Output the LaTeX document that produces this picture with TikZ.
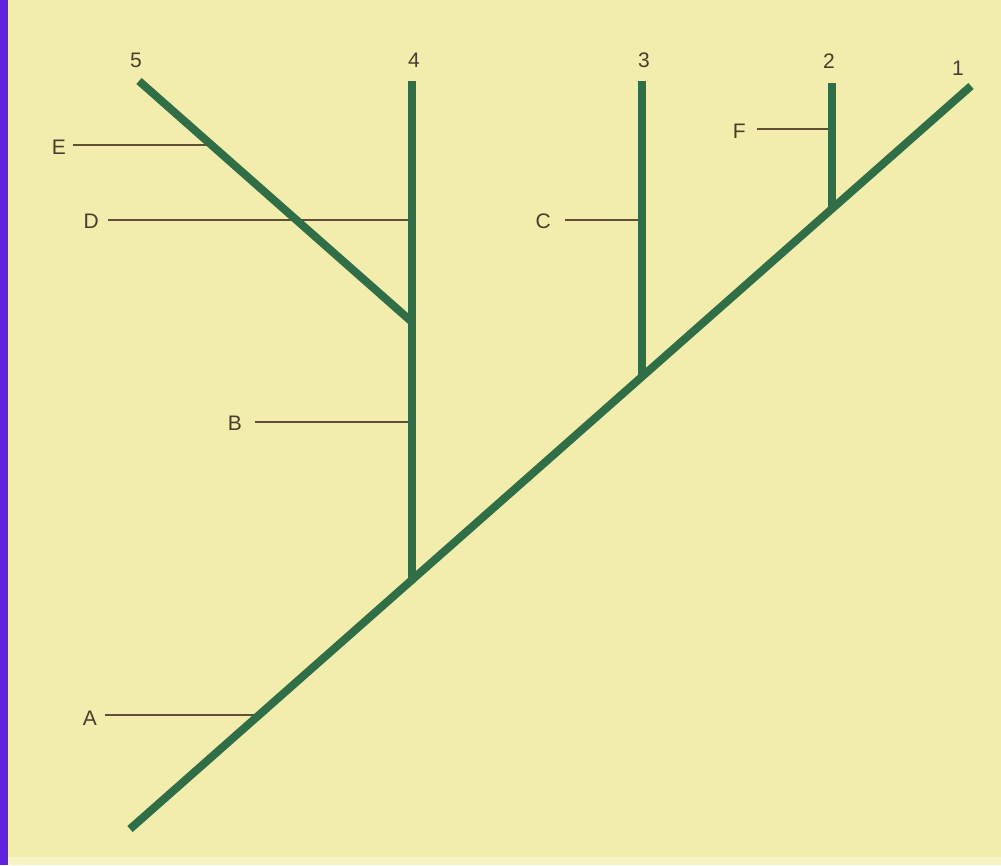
\documentclass[tikz,border=0pt]{standalone}
\usepackage{fontspec}
\setmainfont{Liberation Sans}
\definecolor{bg}{RGB}{242,237,172}
\definecolor{br}{RGB}{47,110,70}
\definecolor{lbl}{RGB}{95,80,55}
\definecolor{txt}{RGB}{70,62,45}
\definecolor{strip}{RGB}{95,35,225}
\tikzset{
  branch/.style={draw=br, line width=8pt, line cap=butt},
  leader/.style={draw=lbl, line width=1.6pt},
  tag/.style={font=\fontsize{21}{21}\selectfont, text=txt, inner sep=0pt}
}
\begin{document}
\begin{tikzpicture}[x=1pt,y=-1pt]
\useasboundingbox (0,0) rectangle (1001,865);
\fill[bg] (0,0) rectangle (1001,865);
\fill[bg!70!white] (0,857) rectangle (1001,865);
\fill[strip] (0,0) rectangle (8,865);
% points
\coordinate (root) at (130,829);
\coordinate (tip1) at (971,86);
\coordinate (j4) at (412,579);
\coordinate (tip4) at (412,81);
\coordinate (j5) at (412,322);
\coordinate (tip5) at (139,81);
\coordinate (j3) at (642,377);
\coordinate (tip3) at (642,81);
\coordinate (j2) at (832,209);
\coordinate (tip2) at (832,83);
% leader endpoints on branches
\coordinate (pA) at (258,715);
\coordinate (pB) at (412,422);
\coordinate (pC) at (642,220);
\coordinate (pD) at (412,220);
\coordinate (pE) at (210,145);
\coordinate (pF) at (832,129);
% leader starts
\coordinate (sA) at (105,715);
\coordinate (sB) at (255,422);
\coordinate (sC) at (565,220);
\coordinate (sD) at (108,220);
\coordinate (sE) at (73,145);
\coordinate (sF) at (757,129);
% labels
\node[tag] (n5) at (136,60) {5};
\node[tag] (n4) at (414,60) {4};
\node[tag] (n3) at (644,60) {3};
\node[tag] (n2) at (829,61) {2};
\node[tag] (n1) at (958,68) {1};
\node[tag, anchor=east] (lE) at (66,147) {E};
\node[tag, anchor=east] (lD) at (99,221) {D};
\node[tag, anchor=east] (lC) at (551,221) {C};
\node[tag, anchor=east] (lF) at (746,131) {F};
\node[tag, anchor=east] (lB) at (242,423) {B};
\node[tag, anchor=east] (lA) at (97,718) {A};
% leaders
\draw[leader] (sE) -- (pE);
\draw[leader] (sD) -- (pD);
\draw[leader] (sC) -- (pC);
\draw[leader] (sF) -- (pF);
\draw[leader] (sB) -- (pB);
\draw[leader] (sA) -- (pA);
% branches
\draw[branch] (root) -- (tip1);
\draw[branch] (j4) -- (tip4);
\draw[branch] (j5) -- (tip5);
\draw[branch] (j3) -- (tip3);
\draw[branch] (j2) -- (tip2);
\end{tikzpicture}
\end{document}
